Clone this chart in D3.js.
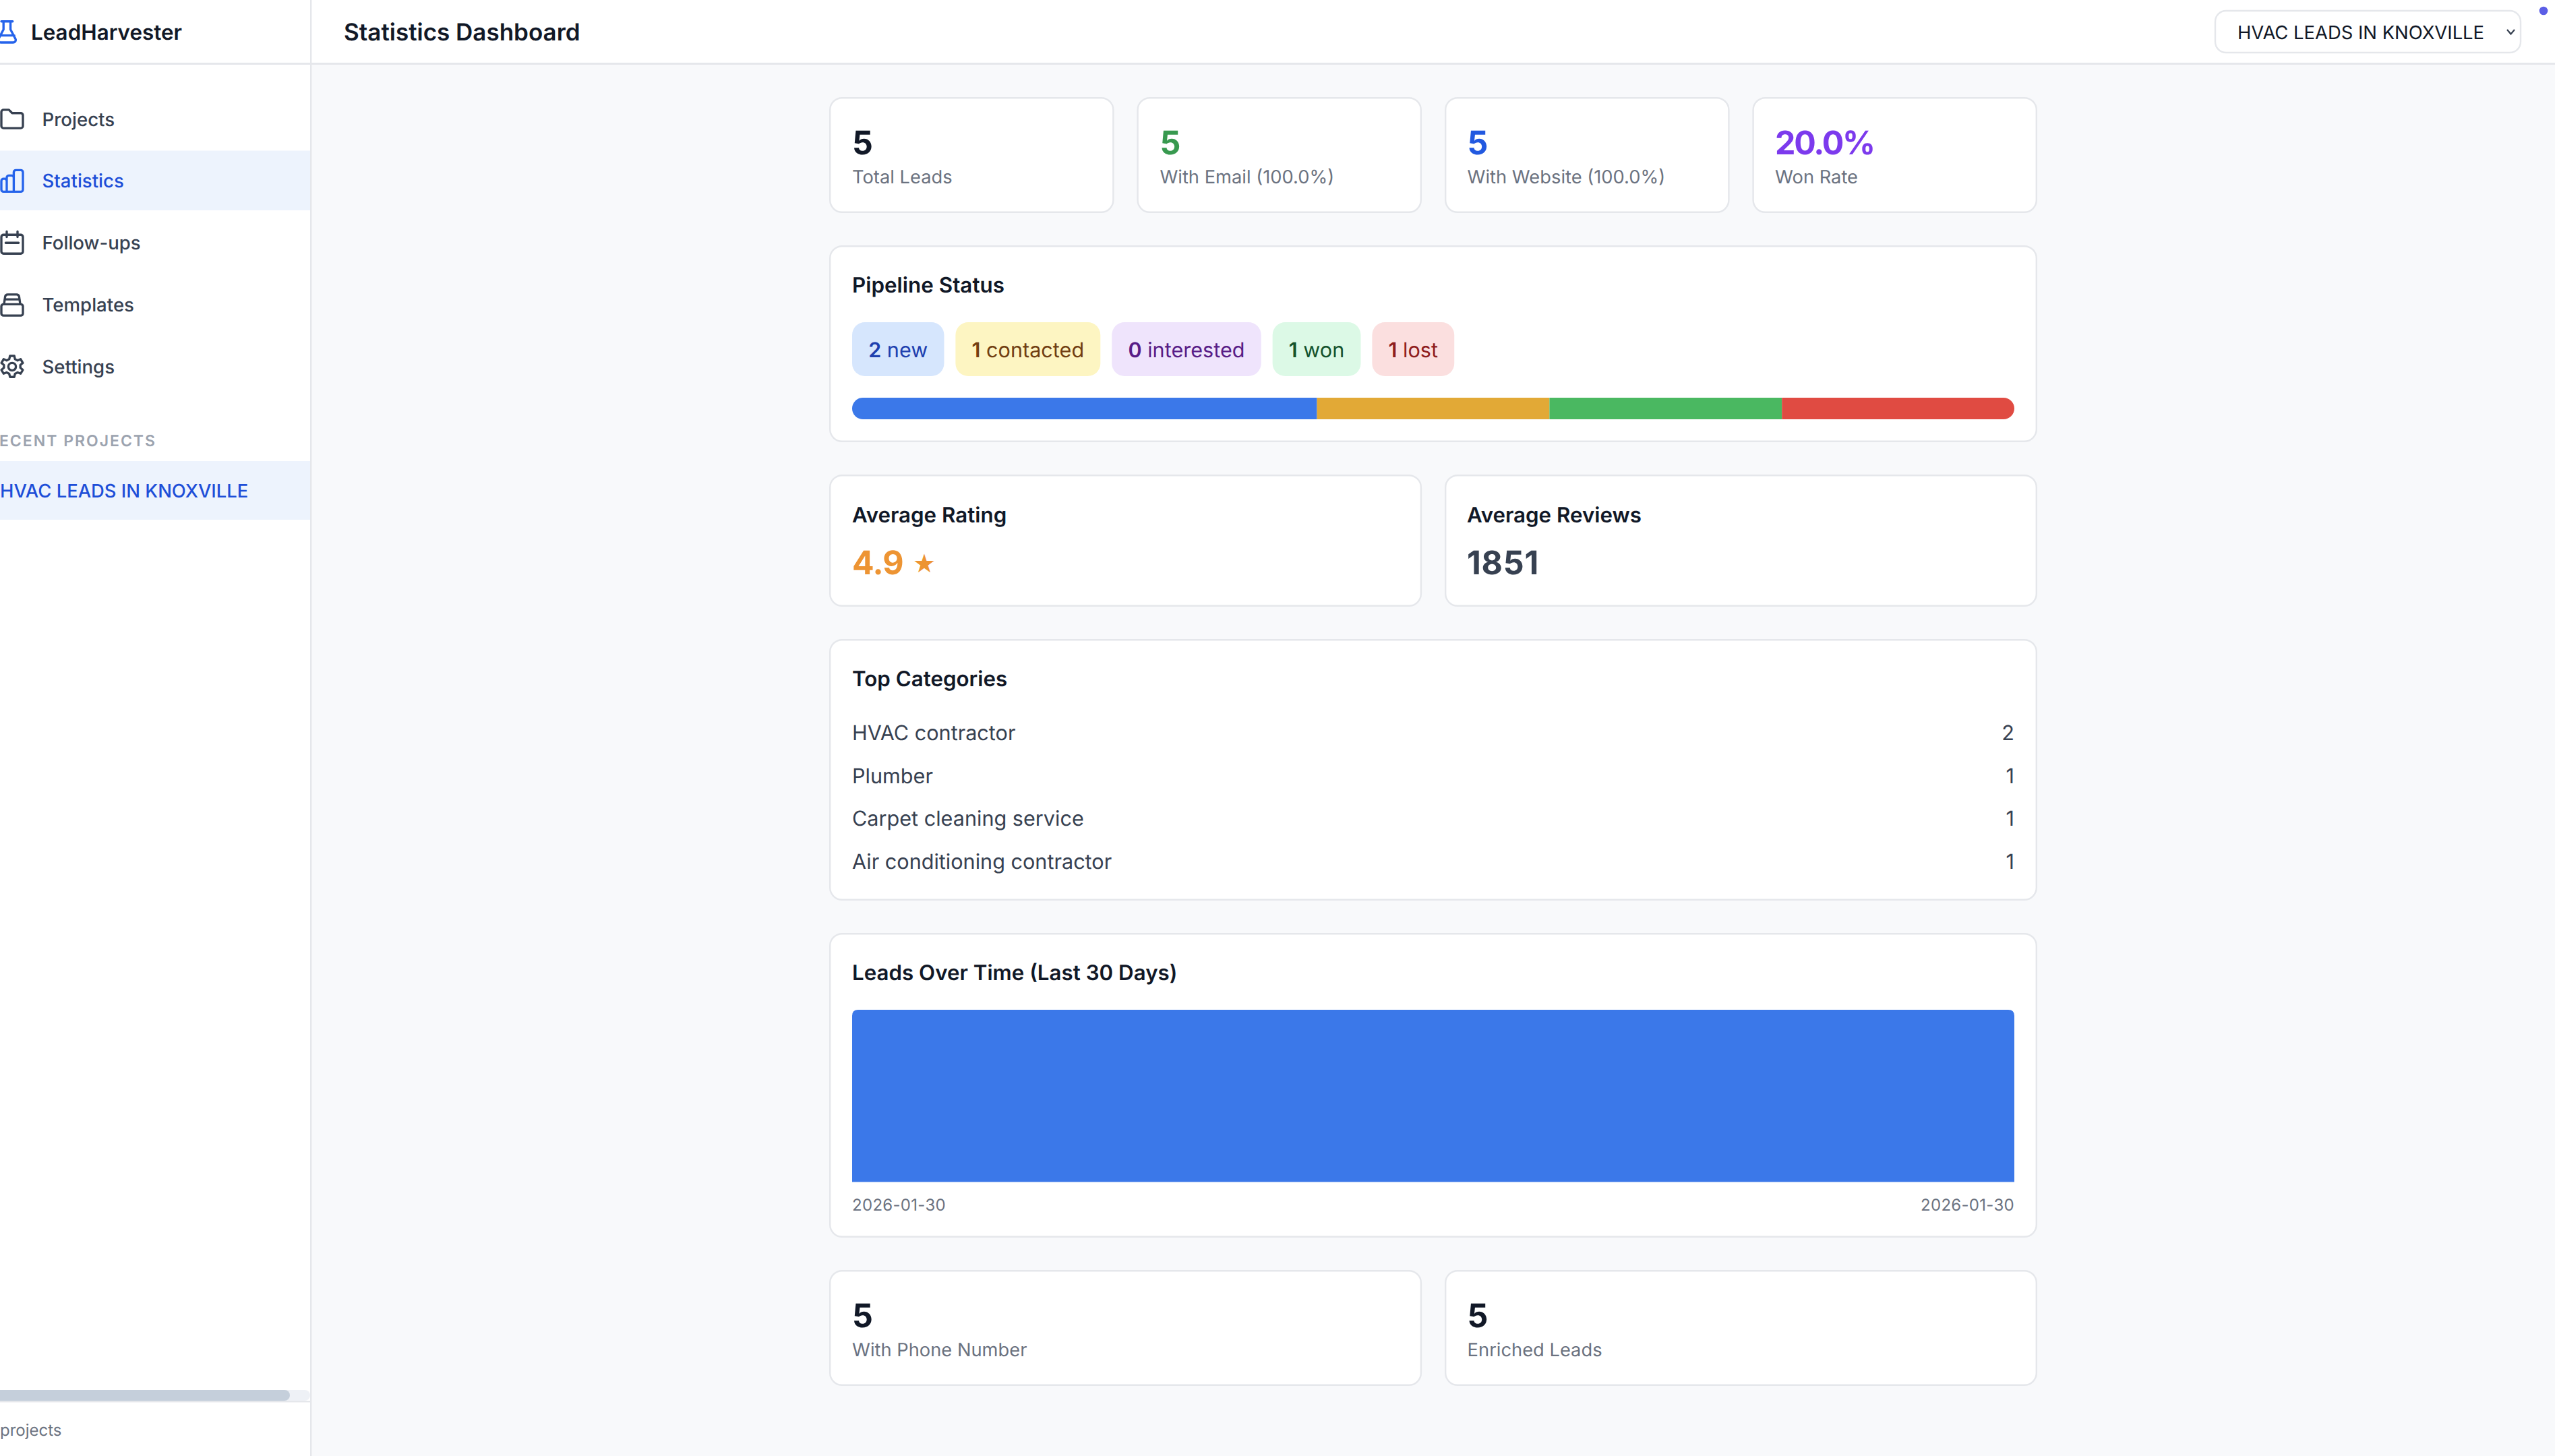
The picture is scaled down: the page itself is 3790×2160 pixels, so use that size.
<!DOCTYPE html>
<html><head><meta charset="utf-8">
<script src="https://cdn.jsdelivr.net/npm/d3@7/dist/d3.min.js"></script>
<style>html,body{margin:0;padding:0;background:#f8f9fb}svg{display:block}text{font-family:Inter,sans-serif;text-rendering:geometricPrecision}</style>
</head><body><div id="app"></div>
<script>
// ---- data ----
const navItems = ["Projects","Statistics","Follow-ups","Templates","Settings"];
const recentProjects = ["HVAC LEADS IN KNOXVILLE"];
const statValues = ["5","5","5","20.0%"];
const statLabels = ["Total Leads","With Email (100.0%)","With Website (100.0%)","Won Rate"];
const statusNames = ["new","contacted","interested","won","lost"];
const statusCounts = [2,1,0,1,1];
const categoryNames = ["HVAC contractor","Plumber","Carpet cleaning service","Air conditioning contractor"];
const categoryCounts = [2,1,1,1];
const dayLabels = ["2026-01-30"];
const dayCounts = [5];
const footValues = ["5","5"];
const footLabels = ["With Phone Number","Enriched Leads"];
const avgRating = "4.9";
const avgReviews = "1851";

// ---- style ----
const W=3790,H=2160;
const C={bd:"#e5e7eb",ink:"#111827",mid:"#374151",mute:"#6b7280",blue:"#1d4ed8"};
const statColors=["#111827","#38994f","#2259e0","#7c3aed"];
const statusBg=["#d6e6fd","#fdf5c2","#efe4fc","#dcf9e6","#fbdfdf"];
const statusFg=["#1e40af","#713f12","#581c87","#14532d","#8f1d1d"];
const statusFill=d3.scaleOrdinal().domain(statusNames).range(["#3b78e9","#e2a936","#9b6ae8","#4ab861","#e04b42"]);

const svg=d3.select("#app").append("svg").attr("width",W).attr("height",H).attr("viewBox",`0 0 ${W} ${H}`);
const defs=svg.append("defs");
svg.append("rect").attr("width",W).attr("height",H).attr("fill","#f8f9fb");

function T(g,x,y,s,o={}){return g.append("text").attr("x",x).attr("y",y).text(s)
  .attr("font-size",o.size||32).attr("font-weight",o.w||400).attr("fill",o.fill||C.ink)
  .attr("text-anchor",o.anchor||"start").attr("letter-spacing",o.ls||null);}
function card(x0,y0,x1,y1){svg.append("rect").attr("x",x0+1.2).attr("y",y0+1.2).attr("width",x1-x0-2.4).attr("height",y1-y0-2.4)
  .attr("rx",18).attr("fill","#fff").attr("stroke",C.bd).attr("stroke-width",2.4);}

// ---- chrome ----
const side=svg.append("g");
side.append("rect").attr("width",460).attr("height",H).attr("fill","#fff");
svg.append("rect").attr("x",460).attr("width",W-460).attr("height",94).attr("fill","#fff");
svg.append("rect").attr("y",93).attr("width",W).attr("height",3).attr("fill",C.bd);
svg.append("rect").attr("x",460).attr("width",2.4).attr("height",H).attr("fill",C.bd);

T(side,46,58.5,"LeadHarvester",{size:31.4,w:600});
T(svg,510,59.5,"Statistics Dashboard",{size:35,w:600});

const icon=(g,d,cy,col,sc=1.6)=>g.append("path").attr("d",d)
  .attr("transform",`translate(${-1.2},${cy-12*sc}) scale(${sc})`)
  .attr("fill","none").attr("stroke",col).attr("stroke-width",2.1).attr("stroke-linecap","round").attr("stroke-linejoin","round");
icon(side,"M4 2.500v7.500L-0.500 18.500a2.300 2.300 0 0 0 2 3.500h11.500a2.300 2.300 0 0 0 2-3.500L10.500 10V2.500M2 2.500h10.500M1 15.500h13",47,"#2563eb");

const navY=d3.scalePoint().domain(navItems).range([176.5,544]);
side.append("rect").attr("y",223.5).attr("width",460).attr("height",88.5).attr("fill","#edf3fd");
const navIcons=[
 "M2 5.500a2 2 0 0 1 2-2h5l3 3h8a2 2 0 0 1 2 2v10a2 2 0 0 1-2 2H4a2 2 0 0 1-2-2z",
 "M2 12a2 2 0 0 1 2-2h1a2 2 0 0 1 2 2v10H4a2 2 0 0 1-2-2zM7 9a2 2 0 0 1 2-2h2.500a2 2 0 0 1 2 2v13H7zM13.500 4a2 2 0 0 1 2-2h4.500a2 2 0 0 1 2 2v16a2 2 0 0 1-2 2h-6.500z",
 "M4 4.500h16a2 2 0 0 1 2 2v13.500a2 2 0 0 1-2 2H4a2 2 0 0 1-2-2V6.500a2 2 0 0 1 2-2zM7 1.500v5M17 1.500v5M6 12h12",
 "M2 13.500a2 2 0 0 1 2-2h16a2 2 0 0 1 2 2v6.500a2 2 0 0 1-2 2H4a2 2 0 0 1-2-2zM4.500 11.500l1-7a2.500 2.500 0 0 1 2.500-2h8a2.500 2.500 0 0 1 2.500 2l1 7M5 7h14",
 "M12 8.500a3.500 3.500 0 1 0 0 7a3.500 3.500 0 1 0 0-7M10 2h4l.7 3 2.400 1.200 2.800-1.200 2 3.500-2.300 1.900v2.600l2.300 2-2 3.400-2.800-1.100-2.400 1.200-.7 3h-4l-.7-3-2.400-1.200-2.800 1.100-2-3.400 2.300-2v-2.600L2.100 8.500l2-3.500 2.800 1.200L9.300 5z"];
navItems.forEach((n,i)=>{const active=n==="Statistics",col=active?C.blue:C.mid;
  icon(side,navIcons[i],navY(n),active?"#2563eb":C.mid);
  T(side,62.5,navY(n)+10,n,{size:27.6,w:500,fill:col});});
T(side,232,661.5,"RECENT PROJECTS",{size:23,w:600,fill:"#9ca3af",anchor:"end",ls:2});
side.append("rect").attr("y",684).attr("width",460).attr("height",87).attr("fill","#edf3fd");
T(side,0,738,recentProjects[0],{size:27.4,w:500,fill:C.blue});
side.append("rect").attr("y",2062).attr("width",460).attr("height",16).attr("rx",8).attr("fill","#eef1f6");
side.append("rect").attr("x",-20).attr("y",2062).attr("width",450).attr("height",16).attr("rx",8).attr("fill","#c5cfdb");
side.append("rect").attr("y",2078).attr("width",460).attr("height",2.4).attr("fill",C.bd);
T(side,0,2130,"projects",{size:24,fill:C.mute});

svg.append("rect").attr("x",3286).attr("y",16).attr("width",453).attr("height",62).attr("rx",16).attr("fill","#fff").attr("stroke",C.bd).attr("stroke-width",2.4);
T(svg,3319,58,recentProjects[0],{size:27.4,w:400,fill:C.ink});
svg.append("path").attr("d","M3719 44l5.500 6.500l5.500-6.500").attr("fill","none").attr("stroke",C.mid).attr("stroke-width",2.2);
svg.append("circle").attr("cx",3773).attr("cy",16).attr("r",6.3).attr("fill","#5b5ee6");

// ---- stat cards ----
const colsTop=[[1230,1652.6],[1686.4,2109],[2143,2565.6],[2599.4,3022]];
const tx=[1264,1720.4,2176.6,2633];
statValues.forEach((v,i)=>{const [a,b]=colsTop[i];card(a,144,b,316);
  T(svg,tx[i],228.5,v,{size:48.3,w:700,fill:statColors[i],ls:v.length>1?-2.2:null});
  T(svg,tx[i],271.5,statLabels[i],{size:27.3,fill:C.mute});});

// ---- pipeline ----
card(1230,364,3022,656);
T(svg,1264,434,"Pipeline Status",{size:31.4,w:600});
let bx=1264;
statusNames.forEach((n,i)=>{const g=svg.append("g");
  const r=g.append("rect").attr("x",bx).attr("y",478).attr("height",80).attr("rx",19).attr("fill",statusBg[i]);
  const t=g.append("text").attr("x",bx+24.2).attr("y",529.500).attr("font-size",30.6).attr("fill",statusFg[i]);
  t.append("tspan").attr("font-weight",600).text(statusCounts[i]);
  t.append("tspan").text(" "+n);
  const w=t.node().getComputedTextLength()+48.4;r.attr("width",w);bx+=w+16.9;});
const total=d3.sum(statusCounts);
const px=d3.scaleLinear().domain([0,total]).range([1264,2988]);
defs.append("clipPath").attr("id","pb").append("rect").attr("x",px(0)).attr("y",590).attr("width",px(total)-px(0)).attr("height",32).attr("rx",16);
let cum=0;
const segs=statusNames.map((n,i)=>{const s={n,a:cum,b:cum+statusCounts[i]};cum=s.b;return s;}).filter(s=>s.b>s.a);
svg.append("g").attr("clip-path","url(#pb)").selectAll("rect").data(segs).join("rect")
  .attr("x",d=>px(d.a)).attr("width",d=>px(d.b)-px(d.a)).attr("y",590).attr("height",32).attr("fill",d=>statusFill(d.n));

// ---- averages ----
card(1230,704,2109.1,900);card(2143,704,3022,900);
T(svg,1264,774.5,"Average Rating",{size:31.3,w:600});
T(svg,2176,774.5,"Average Reviews",{size:31.3,w:600});
T(svg,1264,852,avgRating,{size:48.3,w:700,fill:"#ed9433",ls:-0.6});
T(svg,1354,849,"★",{size:38,fill:"#ed9433"}).style("font-family","DejaVu Sans");
T(svg,2176,852,avgReviews,{size:48.3,w:700,fill:C.mid,ls:0.8});

// ---- top categories ----
card(1230,948,3022,1336);
T(svg,1264,1018,"Top Categories",{size:31.3,w:600});
const catY=d3.scalePoint().domain(categoryNames).range([1088,1279]);
categoryNames.forEach((n,i)=>{T(svg,1264,catY(n)+10,n,{size:30.6,fill:C.mid});
  T(svg,2988,catY(n)+10,categoryCounts[i],{size:30.6,fill:C.mid,anchor:"end"});});

// ---- leads over time ----
card(1230,1384,3022,1836);
T(svg,1264,1454,"Leads Over Time (Last 30 Days)",{size:31.3,w:600});
const lx=d3.scaleBand().domain(dayLabels).range([1264,2988]).padding(0);
const ly=d3.scaleLinear().domain([0,d3.max(dayCounts)]).range([1753.5,1498]);
svg.append("g").selectAll("path").data(dayCounts).join("path")
  .attr("fill","#3b78e9")
  .attr("d",(d,i)=>{const x0=lx(dayLabels[i]),x1=x0+lx.bandwidth(),y0=ly(0),y1=ly(d),r=9;
    return `M${x0} ${y0}V${y1+r}Q${x0} ${y1} ${x0+r} ${y1}H${x1-r}Q${x1} ${y1} ${x1} ${y1+r}V${y0}Z`;});
T(svg,1264,1796,dayLabels[0],{size:24,fill:C.mute,ls:0.3});
T(svg,2988,1796,dayLabels[dayLabels.length-1],{size:24,fill:C.mute,anchor:"end",ls:0.3});

// ---- footer stats ----
[[1230,2109.1],[2143,3022]].forEach(([a,b],i)=>{card(a,1884,b,2056);
  T(svg,a===1230?1264:2176.6,1968.5,footValues[i],{size:48.3,w:700});
  T(svg,a===1230?1264:2176.6,2011.5,footLabels[i],{size:27.3,fill:C.mute});});
</script></body></html>
